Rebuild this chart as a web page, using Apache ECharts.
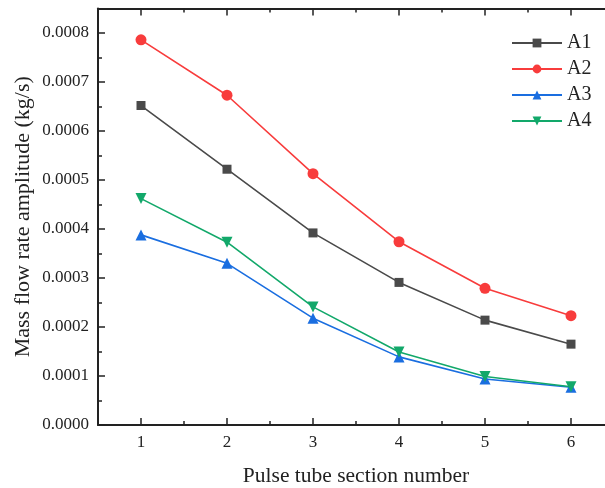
<!DOCTYPE html>
<html><head><meta charset="utf-8">
<script src="https://cdn.jsdelivr.net/npm/echarts@6/dist/echarts.min.js"></script>
<style>html,body{margin:0;padding:0;background:#fff}#c{width:605px;height:488px}</style>
</head><body><div id="c"></div>
<script>
const sections = [1, 2, 3, 4, 5, 6];
const A1 = [0.000652, 0.000522, 0.000392, 0.000291, 0.000214, 0.000165];
const A2 = [0.000786, 0.000673, 0.000513, 0.000374, 0.000279, 0.000223];
const A3 = [0.000388, 0.000330, 0.000218, 0.000139, 0.000094, 0.000077];
const A4 = [0.000462, 0.000373, 0.000241, 0.000149, 0.000099, 0.000078];
const yTicks = [0, 0.0001, 0.0002, 0.0003, 0.0004, 0.0005, 0.0006, 0.0007, 0.0008];
const yMinor = [0.00005, 0.00015, 0.00025, 0.00035, 0.00045, 0.00055, 0.00065, 0.00075];
const xMinor = [1.5, 2.5, 3.5, 4.5, 5.5];

const font = 'Liberation Serif';
const axisColor = '#222';
function pts(arr){ return sections.map((x,i)=>[x, arr[i]]); }

function xAx(grid, pos, major, labels){
  return {
    type:'value', gridIndex:grid, position:pos, min:0.5, max:6.5,
    axisLine:{show:major, onZero:false, lineStyle:{color:axisColor, width:2}},
    splitLine:{show:false},
    axisTick:{show:true, inside:true, length: major?7:4, customValues: major?sections:xMinor, lineStyle:{color:axisColor, width:1.5}},
    axisLabel:{show:labels, customValues:sections, fontFamily:font, fontSize:17, color:'#222', margin:9},
    name: labels ? 'Pulse tube section number' : '',
    nameLocation:'middle', nameGap:40,
    nameTextStyle:{fontFamily:font, fontSize:21.5, color:'#222'}
  };
}
function yAx(grid, pos, major, labels){
  return {
    type:'value', gridIndex:grid, position:pos, min:0, max:0.00085,
    axisLine:{show:major, onZero:false, lineStyle:{color:axisColor, width:2}},
    splitLine:{show:false},
    axisTick:{show:true, inside:true, length: major?7:4, customValues: major?yTicks:yMinor, lineStyle:{color:axisColor, width:1.5}},
    axisLabel:{show:labels, customValues:yTicks, fontFamily:font, fontSize:17, color:'#222', margin:9,
      formatter:(v)=>v.toFixed(4)},
    name: labels ? 'Mass flow rate amplitude (kg/s)' : '',
    nameLocation:'middle', nameGap:64, nameMoveOverlap:false,
    nameTextStyle:{fontFamily:font, fontSize:22, color:'#222'}
  };
}

const colors = ['#4a4a4a', '#f83c3c', '#1a6ee0', '#12a86a'];
const symbols = ['rect', 'circle', 'triangle', 'path://M0,0 L10,0 L5,9 Z'];
const sizes = [9, 11, 11, 11];
const names = ['A1','A2','A3','A4'];
const datas = [A1, A2, A3, A4];

const g = {left:98, top:8.5, width:516, height:416.5, containLabel:false, outerBoundsMode:'none'};
const chart = echarts.init(document.getElementById('c'), null, {renderer:'canvas'});
chart.setOption({
  animation:false,
  backgroundColor:'#fff',
  grid:[Object.assign({}, g), Object.assign({}, g)],
  legend:{
    data:names, orient:'vertical', left:506, top:28,
    itemWidth:50, itemHeight:11, itemGap:6,
    textStyle:{fontFamily:font, fontSize:20, color:'#222'}
  },
  xAxis:[xAx(0,'bottom', true, true), xAx(0,'top', true, false), xAx(1,'bottom', false, false), xAx(1,'top', false, false)],
  yAxis:[yAx(0,'left', true, true), yAx(0,'right', true, false), yAx(1,'left', false, false), yAx(1,'right', false, false)],
  series: names.map((n,i)=>({
    name:n, type:'line', xAxisIndex:0, yAxisIndex:0,
    data:pts(datas[i]),
    symbol:symbols[i], symbolSize:sizes[i], showSymbol:true,
    itemStyle:{color:colors[i]},
    lineStyle:{color:colors[i], width:1.6}
  }))
});
</script></body></html>
